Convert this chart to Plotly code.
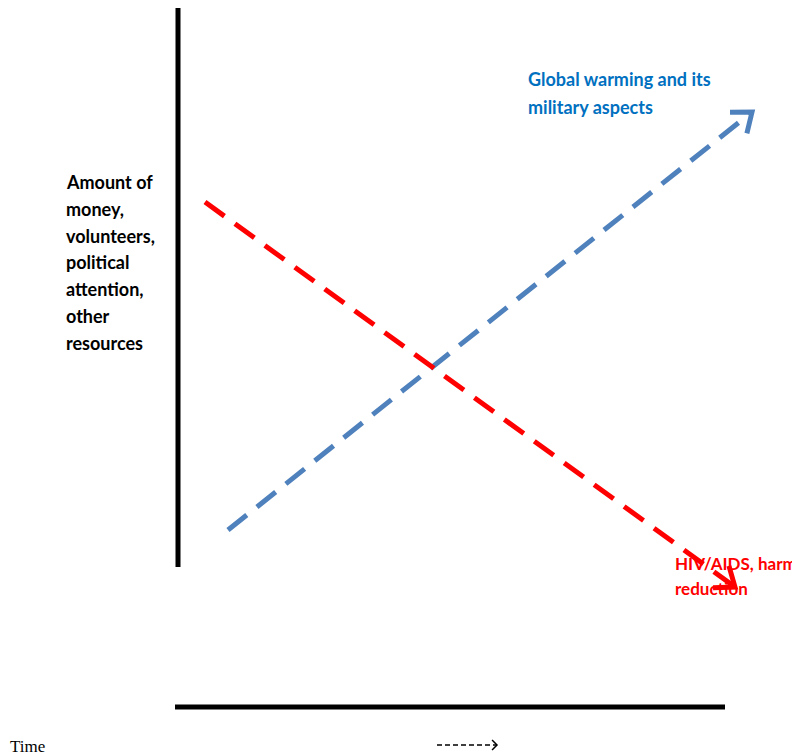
import math
import plotly.graph_objs as go

# trend endpoints (pixel-like coordinate system, y grows downward)
global_x = [228, 752]
global_y = [530, 112]
hiv_x = [205, 735]
hiv_y = [202, 587]

axis_y_x = [178, 178]
axis_y_y = [0, 567]
axis_x_x = [175, 725]
axis_x_y = [707, 707]

time_arrow_x = [437, 497]
time_arrow_y = [745, 745]

y_label = ['Amount of', 'money,', 'volunteers,', 'political', 'attention,', 'other', 'resources']
global_label = ['Global warming and its', 'military aspects']
hiv_label = ['HIV/AIDS, harm', 'reduction']

BLUE = '#4F81BD'
RED = '#FF0000'


def arrow_head(xs, ys, length=22, spread=38):
    # open chevron at the end of a line
    ang = math.atan2(ys[1] - ys[0], xs[1] - xs[0]) + math.pi
    hx, hy = [], []
    for s in (spread, -spread):
        a = ang + math.radians(s)
        hx.append(xs[1] + length * math.cos(a))
        hy.append(ys[1] + length * math.sin(a))
    return [hx[0], xs[1], hx[1]], [hy[0], ys[1], hy[1]]


fig = go.Figure()

fig.add_trace(go.Scatter(x=axis_y_x, y=axis_y_y, mode='lines',
                         line=dict(color='black', width=5)))
fig.add_trace(go.Scatter(x=axis_x_x, y=axis_x_y, mode='lines',
                         line=dict(color='black', width=5)))

fig.add_trace(go.Scatter(x=global_x, y=global_y, mode='lines',
                         line=dict(color=BLUE, width=5, dash='24px,13px')))
gx, gy = arrow_head(global_x, global_y)
fig.add_trace(go.Scatter(x=gx, y=gy, mode='lines',
                         line=dict(color=BLUE, width=5)))

fig.add_trace(go.Scatter(x=hiv_x, y=hiv_y, mode='lines',
                         line=dict(color=RED, width=5, dash='24px,13px')))
hx, hy = arrow_head(hiv_x, hiv_y)
fig.add_trace(go.Scatter(x=hx, y=hy, mode='lines',
                         line=dict(color=RED, width=5)))

fig.add_trace(go.Scatter(x=time_arrow_x, y=time_arrow_y, mode='lines',
                         line=dict(color='black', width=1.5, dash='5px,3px')))
tx, ty = arrow_head(time_arrow_x, time_arrow_y, length=7, spread=45)
fig.add_trace(go.Scatter(x=tx, y=ty, mode='lines',
                         line=dict(color='black', width=1.5)))

annotations = []
for i, t in enumerate(y_label):
    annotations.append(dict(x=64, y=182 + i * 26.8, text='<b>' + t + '</b>',
                            xanchor='left', yanchor='middle', showarrow=False,
                            font=dict(family='Lato', size=18, color='black')))
for i, t in enumerate(global_label):
    annotations.append(dict(x=526, y=79 + i * 28, text='<b>' + t + '</b>',
                            xanchor='left', yanchor='middle', showarrow=False,
                            font=dict(family='Lato', size=18, color='#0070C0')))
for i, t in enumerate(hiv_label):
    annotations.append(dict(x=673, y=563 + i * 25, text='<b>' + t + '</b>',
                            xanchor='left', yanchor='middle', showarrow=False,
                            font=dict(family='Lato', size=17, color=RED)))
annotations.append(dict(x=8, y=746, text='Time', xanchor='left', yanchor='middle',
                        showarrow=False,
                        font=dict(family='Liberation Serif', size=17, color='black')))

# the page body has an 8px margin, so the figure is 8px smaller and the
# ranges start at 8 to keep pixel positions matching the reference
fig.update_layout(
    width=792,
    height=748,
    margin=dict(l=0, r=0, t=0, b=0),
    paper_bgcolor='white',
    plot_bgcolor='white',
    showlegend=False,
    annotations=annotations,
    xaxis=dict(range=[8, 800], visible=False, fixedrange=True),
    yaxis=dict(range=[756, 8], visible=False, fixedrange=True),
)

fig.write_html("out.html")
